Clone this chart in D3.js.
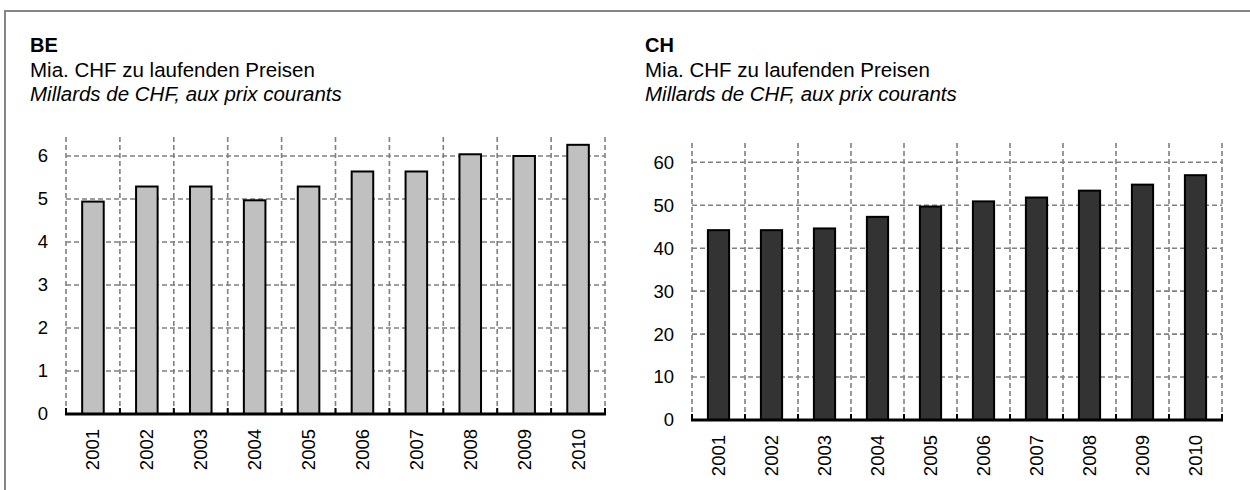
<!DOCTYPE html>
<html lang="de">
<head>
    <meta charset="UTF-8">
    <title>BE / CH - Mia. CHF zu laufenden Preisen</title>
    <script src="https://cdn.jsdelivr.net/npm/d3@7"></script>
    <style>
        body { margin: 0; background: #fff; }
        text { font-family: "Liberation Sans", Arial, sans-serif; fill: #000; }
    </style>
</head>
<body>
    <svg width="1250" height="490"></svg>

    <script>
        // data
        const years = ["2001", "2002", "2003", "2004", "2005", "2006", "2007", "2008", "2009", "2010"];
        const beValues = [4.94, 5.29, 5.29, 4.97, 5.29, 5.64, 5.64, 6.04, 6.0, 6.26];
        const chValues = [44.2, 44.2, 44.6, 47.3, 49.7, 50.9, 51.8, 53.4, 54.8, 57.0];
        const beTicks = [0, 1, 2, 3, 4, 5, 6];
        const chTicks = [0, 10, 20, 30, 40, 50, 60];
        const subDe = "Mia. CHF zu laufenden Preisen";
        const subFr = "Millards de CHF, aux prix courants";

        const svg = d3.select("svg");

        // grey frame (top + left only, the rest is cut off)
        svg.append("path")
            .attr("d", "M5,490 V11 H1250")
            .attr("fill", "none")
            .attr("stroke", "#858585")
            .attr("stroke-width", 2);

        function drawPanel(opts) {
            const g = svg.append("g");

            // titles
            g.append("text").attr("x", opts.tx).attr("y", 52)
                .style("font-size", "20px").style("font-weight", "bold")
                .text(opts.title);
            g.append("text").attr("x", opts.tx).attr("y", 77)
                .style("font-size", "20.5px")
                .text(subDe);
            g.append("text").attr("x", opts.tx).attr("y", 101)
                .style("font-size", "20.5px").style("font-style", "italic")
                .text(subFr);

            const x = d3.scaleBand().domain(years).range([opts.x0, opts.x1]);
            const xBar = d3.scaleBand().domain(years).range([opts.x0, opts.x1])
                .paddingInner(0.6).paddingOuter(0.3);
            const y = d3.scaleLinear().domain([0, opts.max]).range([opts.y0, opts.y0 - opts.unit * opts.max]);

            const bounds = years.map(d => x(d)).concat([opts.x1]);

            // grid
            g.selectAll("line.hgrid")
                .data(opts.ticks.filter(t => t > 0))
                .enter().append("line")
                .attr("class", "hgrid")
                .attr("x1", opts.x0).attr("x2", opts.x1)
                .attr("y1", d => y(d)).attr("y2", d => y(d))
                .attr("stroke", "#808080").attr("stroke-width", 1.6)
                .attr("stroke-dasharray", "5,3");

            g.selectAll("line.vgrid")
                .data(bounds)
                .enter().append("line")
                .attr("class", "vgrid")
                .attr("x1", d => d).attr("x2", d => d)
                .attr("y1", y(0)).attr("y2", y(opts.max))
                .attr("stroke", "#808080").attr("stroke-width", 1.6)
                .attr("stroke-dasharray", "5,3");

            // bars
            g.selectAll("rect.bar")
                .data(opts.values)
                .enter().append("rect")
                .attr("class", "bar")
                .attr("x", (d, i) => xBar(years[i]))
                .attr("width", xBar.bandwidth())
                .attr("y", d => y(d))
                .attr("height", d => y(0) - y(d))
                .attr("fill", opts.fill)
                .attr("stroke", "#000")
                .attr("stroke-width", 2);

            // zero line + small inward ticks
            g.append("line")
                .attr("x1", opts.x0 - 1).attr("x2", opts.x1 + 1)
                .attr("y1", y(0)).attr("y2", y(0))
                .attr("stroke", "#000").attr("stroke-width", 2.8);
            g.selectAll("line.xtick")
                .data(bounds)
                .enter().append("line")
                .attr("class", "xtick")
                .attr("x1", d => d).attr("x2", d => d)
                .attr("y1", y(0)).attr("y2", y(0) - 6)
                .attr("stroke", "#000").attr("stroke-width", 2);

            // y labels
            const yAxis = g.append("g")
                .attr("transform", `translate(${opts.x0},0)`)
                .call(d3.axisLeft(y).tickValues(opts.ticks).tickSize(0).tickPadding(18).tickFormat(d3.format("d")));
            yAxis.select(".domain").remove();
            yAxis.selectAll("text")
                .style("font-size", "18.5px")
                .style("font-family", "'Liberation Sans', Arial, sans-serif")
                .attr("fill", "#000");

            // x labels, rotated
            const xAxis = g.append("g")
                .attr("transform", `translate(0,${y(0)})`)
                .call(d3.axisBottom(x).tickSize(0));
            xAxis.select(".domain").remove();
            xAxis.selectAll("text")
                .attr("transform", "rotate(-90)")
                .attr("x", -15)
                .attr("y", 0)
                .attr("dy", "0.35em")
                .style("text-anchor", "end")
                .style("font-size", "18.5px")
                .style("font-family", "'Liberation Sans', Arial, sans-serif")
                .attr("fill", "#000");
        }

        drawPanel({
            title: "BE", tx: 30,
            values: beValues, ticks: beTicks, max: 6.5,
            x0: 66, x1: 605, y0: 414, unit: 43,
            fill: "#c0c0c0"
        });

        drawPanel({
            title: "CH", tx: 645,
            values: chValues, ticks: chTicks, max: 65,
            x0: 692, x1: 1222, y0: 420, unit: 4.295,
            fill: "#333333"
        });
    </script>
</body>
</html>
